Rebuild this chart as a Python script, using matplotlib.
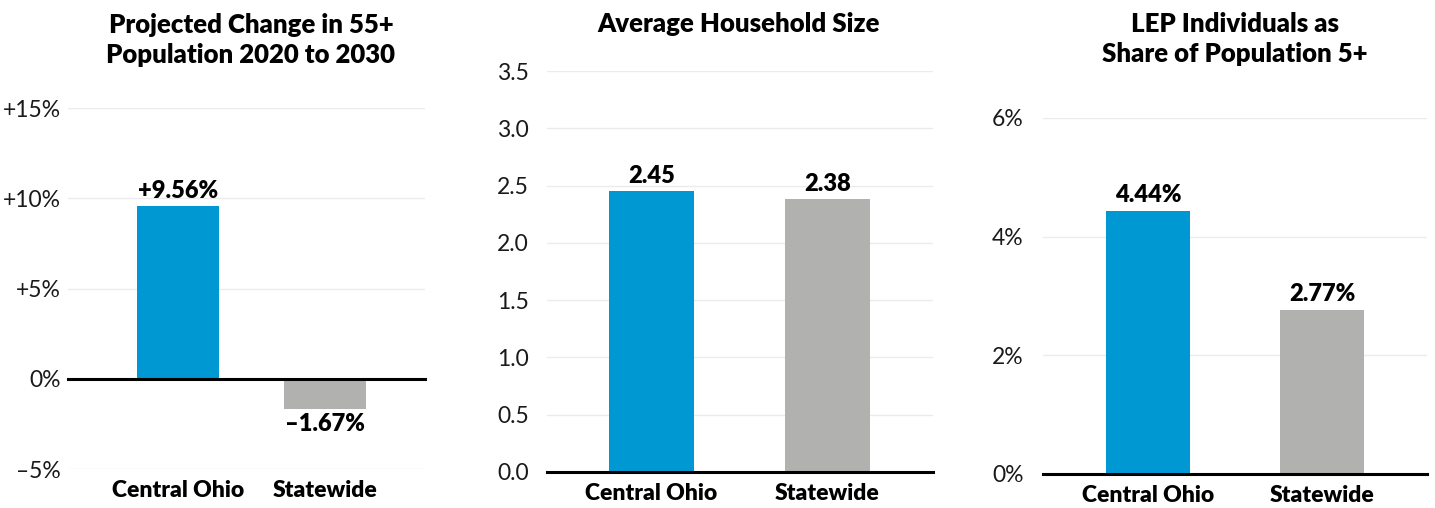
import matplotlib
matplotlib.use('Agg')
import matplotlib.pyplot as plt

plt.rcParams['font.family'] = ['Lato', 'DejaVu Sans']

categories = ['Central Ohio', 'Statewide']
colors = ['#0098D2', '#B1B2B0']

change_55 = [9.56, -1.67]
change_labels = ['+9.56%', '–1.67%']
change_ticks = [-5, 0, 5, 10, 15]
change_ticklabels = ['–5%', '0%', '+5%', '+10%', '+15%']

hh_size = [2.45, 2.38]
hh_labels = ['2.45', '2.38']
hh_ticks = [0.0, 0.5, 1.0, 1.5, 2.0, 2.5, 3.0, 3.5]
hh_ticklabels = ['0.0', '0.5', '1.0', '1.5', '2.0', '2.5', '3.0', '3.5']

lep_share = [4.44, 2.77]
lep_labels = ['4.44%', '2.77%']
lep_ticks = [0, 2, 4, 6]
lep_ticklabels = ['0%', '2%', '4%', '6%']

W, H = 1435, 508
fig = plt.figure(figsize=(W / 100, H / 100), dpi=100)
BOLD = 'heavy'


def px_axes(x0, x1, ytop, ybot):
    return fig.add_axes([x0 / W, 1 - ybot / H, (x1 - x0) / W, (ybot - ytop) / H])


def panel(ax, vals, labels, ticks, ticklabels, ylim, xlim, width, pad):
    ax.bar(range(len(vals)), vals, width=width, color=colors, zorder=2)
    ax.set_xlim(xlim)
    ax.set_ylim(ylim)
    ax.set_yticks(ticks)
    ax.set_yticklabels(ticklabels, fontsize=16.5, color='#1a1a1a')
    ax.set_xticks(range(len(vals)))
    ax.set_xticklabels(categories, fontsize=16.5, fontweight=BOLD)
    ax.tick_params(axis='y', length=0, pad=pad)
    ax.tick_params(axis='x', length=0, pad=8)
    for s in ax.spines.values():
        s.set_visible(False)
    for t in ticks:
        if t != 0:
            ax.axhline(t, color='#ebebeb', lw=1, zorder=1)
    ax.axhline(0, color='black', lw=2.2, zorder=3, clip_on=False)
    for i, (v, lab) in enumerate(zip(vals, labels)):
        if v >= 0:
            ax.annotate(lab, (i, v), xytext=(0, 3), textcoords='offset points',
                        ha='center', va='bottom', fontsize=17, fontweight=BOLD)
        else:
            ax.annotate(lab, (i, v), xytext=(0, -3), textcoords='offset points',
                        ha='center', va='top', fontsize=17, fontweight=BOLD)


ax1 = px_axes(68, 425, 108, 469)
panel(ax1, change_55, change_labels, change_ticks, change_ticklabels,
      (-5, 15), (-0.748, 1.68), 0.558, 5)
fig.text(251 / W, 1 - 40 / H, 'Projected Change in 55+\nPopulation 2020 to 2030',
         ha='center', va='center', fontsize=18.5, fontweight=BOLD, linespacing=1.3)

ax2 = px_axes(547, 933, 71, 472)
panel(ax2, hh_size, hh_labels, hh_ticks, hh_ticklabels,
      (0, 3.5), (-0.594, 1.6), 0.483, 13)
fig.text(739 / W, 1 - 24 / H, 'Average Household Size',
         ha='center', va='center', fontsize=18.5, fontweight=BOLD)

ax3 = px_axes(1043, 1427, 118, 474)
panel(ax3, lep_share, lep_labels, lep_ticks, lep_ticklabels,
      (0, 6), (-0.603, 1.603), 0.483, 14)
fig.text(1235 / W, 1 - 39 / H, 'LEP Individuals as\nShare of Population 5+',
         ha='center', va='center', fontsize=18.5, fontweight=BOLD, linespacing=1.3)

fig.savefig('out.png', dpi=100)
